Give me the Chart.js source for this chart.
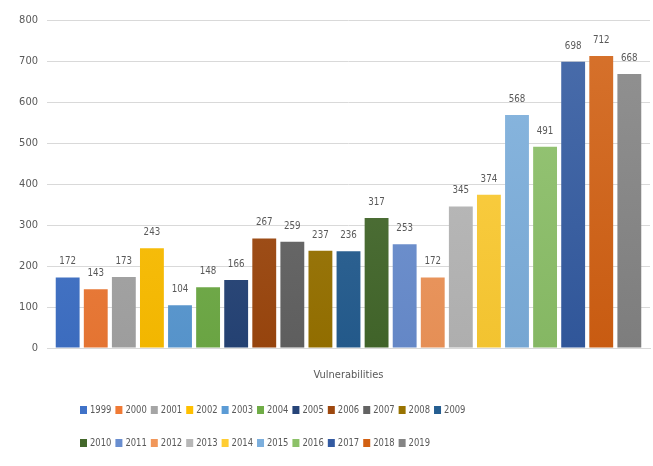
<!DOCTYPE html>
<html>
<head>
<meta charset="utf-8">
<script src="https://cdn.jsdelivr.net/npm/chart.js@4/dist/chart.umd.min.js"></script>
<style>
  html, body { margin: 0; padding: 0; background: #fff; }
  #wrap { width: 653px; height: 466px; position: relative; }
</style>
</head>
<body>
<div id="wrap"><canvas id="grafico"></canvas></div>
<script>
// dados
const categorias = ['Vulnerabilities'];
const anos = ['1999', '2000', '2001', '2002', '2003', '2004', '2005', '2006', '2007', '2008', '2009',
              '2010', '2011', '2012', '2013', '2014', '2015', '2016', '2017', '2018', '2019'];
const totais = [172, 143, 173, 243, 104, 148, 166, 267, 259, 237, 236,
                317, 253, 172, 345, 374, 568, 491, 698, 712, 668];
const cores = ['#3f72c8', '#f07a35', '#a5a5a5', '#ffc000', '#5b9bd5', '#70ad47', '#264478',
               '#9e480e', '#636363', '#997300', '#255e91', '#43682b', '#698ed0', '#f1975a',
               '#b7b7b7', '#ffcd33', '#7cafdd', '#8cc168', '#335aa1', '#d26012', '#848484'];
const ticksY = [0, 100, 200, 300, 400, 500, 600, 700, 800];

const fonte = '"Liberation Sans Narrow", "DejaVu Sans Condensed", "Liberation Sans", sans-serif';
const cinza = '#595959';

// mistura uma cor hex com branco (t>0) ou preto (t<0)
function misturar(hex, t) {
    const n = parseInt(hex.slice(1), 16);
    const alvo = t > 0 ? 255 : 0;
    const k = Math.abs(t);
    const c = [n >> 16, (n >> 8) & 255, n & 255].map(v => Math.round(v + (alvo - v) * k));
    return `rgb(${c[0]},${c[1]},${c[2]})`;
}

// gradiente vertical leve, parecido com o estilo do Excel
function gradiente(context) {
    const chart = context.chart;
    const area = chart.chartArea;
    const base = cores[context.datasetIndex];
    if (!area) return base;
    const g = chart.ctx.createLinearGradient(0, area.top, 0, area.bottom);
    g.addColorStop(0, misturar(base, 0.12));
    g.addColorStop(1, misturar(base, -0.05));
    return g;
}

// rótulos de valor acima de cada barra
const rotulosValor = {
    id: 'rotulosValor',
    afterDatasetsDraw(chart) {
        const ctx = chart.ctx;
        ctx.save();
        ctx.font = '11px ' + fonte;
        ctx.fillStyle = cinza;
        ctx.textAlign = 'center';
        ctx.textBaseline = 'middle';
        chart.data.datasets.forEach((ds, i) => {
            chart.getDatasetMeta(i).data.forEach((barra, j) => {
                ctx.save();
                ctx.translate(barra.x, barra.y - 16);
                ctx.scale(0.88, 1);
                ctx.fillText(ds.data[j], 0, 0);
                ctx.restore();
            });
        });
        ctx.restore();
    }
};

// legenda em duas linhas, como no Excel
const legendaExcel = {
    id: 'legendaExcel',
    afterDraw(chart) {
        const ctx = chart.ctx;
        const linhas = [[0, 11, 410], [11, 21, 443]];
        const aperto = 0.85;
        ctx.save();
        ctx.font = '11px ' + fonte;
        ctx.textBaseline = 'middle';
        ctx.textAlign = 'left';
        linhas.forEach(([ini, fim, y]) => {
            let x = 80;
            for (let i = ini; i < fim; i++) {
                const ds = chart.data.datasets[i];
                ctx.fillStyle = cores[i];
                ctx.fillRect(x, y - 4, 7, 8);
                ctx.fillStyle = cinza;
                ctx.save();
                ctx.translate(x + 10, y);
                ctx.scale(aperto, 1);
                ctx.fillText(ds.label, 0, 0);
                ctx.restore();
                x += 10 + ctx.measureText(ds.label).width * aperto + 4;
            }
        });
        ctx.restore();
    }
};

const ctx = document.getElementById('grafico').getContext('2d');
new Chart(ctx, {
    type: 'bar',
    data: {
        labels: categorias,
        datasets: anos.map((ano, i) => ({
            label: ano,
            data: [totais[i]],
            backgroundColor: gradiente,
            borderWidth: 0
        }))
    },
    options: {
        responsive: true,
        maintainAspectRatio: false,
        animation: false,
        datasets: { bar: { categoryPercentage: 0.978, barPercentage: 0.85 } },
        layout: { padding: { top: 20, right: 3, bottom: 78, left: 0 } },
        plugins: {
            legend: { display: false },
            tooltip: { enabled: false }
        },
        scales: {
            x: {
                grid: { display: false, drawTicks: false },
                border: { color: '#d9d9d9' },
                ticks: { color: cinza, padding: 21, font: { family: fonte, size: 11 } },
                afterFit(escala) { escala.height = 40; }
            },
            y: {
                min: 0,
                max: 800,
                afterBuildTicks(escala) { escala.ticks = ticksY.map(v => ({ value: v })); },
                grid: { color: '#d9d9d9', drawTicks: false },
                border: { display: false },
                ticks: { color: cinza, padding: 9, font: { family: fonte, size: 11 } },
                afterFit(escala) { escala.width = 47; }
            }
        }
    },
    plugins: [rotulosValor, legendaExcel]
});
</script>
</body>
</html>
